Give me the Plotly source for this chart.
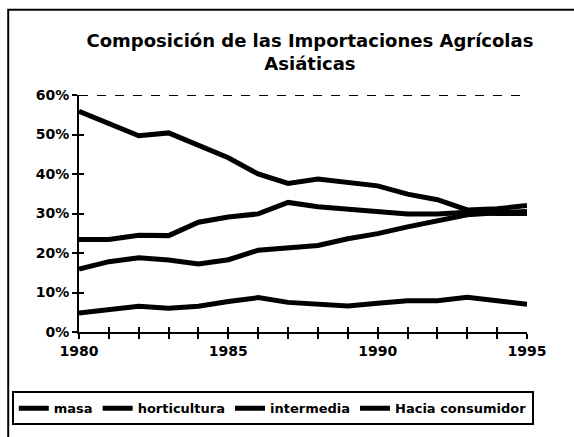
import plotly.graph_objects as go

years = list(range(1980, 1996))

masa = [0.559, 0.528, 0.497, 0.504, 0.473, 0.441, 0.400, 0.376, 0.387, 0.380,
        0.370, 0.349, 0.335, 0.309, 0.312, 0.320]
intermedia = [0.234, 0.234, 0.245, 0.244, 0.278, 0.291, 0.299, 0.328, 0.317, 0.310,
              0.303, 0.299, 0.299, 0.303, 0.300, 0.300]
consumidor = [0.159, 0.178, 0.188, 0.182, 0.172, 0.183, 0.207, 0.214, 0.219, 0.236,
              0.249, 0.266, 0.281, 0.297, 0.302, 0.305]
horticultura = [0.048, 0.058, 0.065, 0.060, 0.065, 0.077, 0.087, 0.075, 0.070, 0.066,
                0.073, 0.079, 0.079, 0.088, 0.079, 0.070]

series = [("masa", masa), ("horticultura", horticultura),
          ("intermedia", intermedia), ("Hacia consumidor", consumidor)]

font = "DejaVu Sans"
ax_common = dict(showline=True, linecolor="black", linewidth=2,
                 showgrid=False, zeroline=False, automargin=False)

fig = go.Figure()
for name, vals in series:
    fig.add_trace(go.Scatter(x=years, y=vals, name=name, mode="lines",
                             line=dict(color="black", width=5)))

# broken top line of the plot area, as in the scan
fig.add_shape(type="line", xref="paper", yref="y", x0=0, x1=1, y0=0.6, y1=0.6,
              line=dict(color="black", width=2, dash="dash"))
# outer chart frame
fig.add_shape(type="rect", xref="paper", yref="paper",
              x0=-0.158, x1=1.11, y0=1.36, y1=-0.45,
              line=dict(color="black", width=2))

fig.update_layout(
    width=574, height=437,
    margin=dict(l=78, r=47, t=95, b=103),
    paper_bgcolor="white", plot_bgcolor="white",
    font=dict(family=font, size=14, color="black", weight="bold"),
    title=dict(text="Composición de las Importaciones Agrícolas<br>Asiáticas",
               x=0.54, xanchor="center", y=0.893, yanchor="top",
               font=dict(family=font, size=18, color="black", weight="bold")),
    xaxis=dict(range=[1980, 1995], tickvals=[1980, 1985, 1990, 1995],
               ticks="outside", ticklen=5, tickwidth=2, tickcolor="black",
               minor=dict(dtick=1, ticks="outside", ticklen=5, tickwidth=2,
                          tickcolor="black"),
               **ax_common),
    # same axis again with inside ticks so the ticks cross the axis line
    xaxis2=dict(range=[1980, 1995], overlaying="x", side="bottom",
                tickvals=list(range(1980, 1996)), ticks="inside", ticklen=5,
                tickwidth=2, tickcolor="black", showticklabels=False,
                **ax_common),
    yaxis=dict(range=[0, 0.6], tickvals=[0, 0.1, 0.2, 0.3, 0.4, 0.5, 0.6],
               tickformat=".0%", ticks="outside", ticklen=5, tickwidth=2,
               tickcolor="black", **ax_common),
    yaxis2=dict(range=[0, 0.6], overlaying="y", side="left",
                tickvals=[0, 0.1, 0.2, 0.3, 0.4, 0.5, 0.6], ticks="inside",
                ticklen=5, tickwidth=2, tickcolor="black", showticklabels=False,
                **ax_common),
    legend=dict(orientation="h", x=-0.15, xanchor="left", y=-0.25, yanchor="top",
                bordercolor="black", borderwidth=2, bgcolor="white",
                font=dict(family=font, size=13, color="black", weight="bold"),
                itemwidth=30, tracegroupgap=0),
    showlegend=True,
)

# empty trace so the overlay axes are drawn
fig.add_trace(go.Scatter(x=[], y=[], xaxis="x2", yaxis="y2", showlegend=False,
                         hoverinfo="skip"))

fig.write_html("out.html", config={"displayModeBar": False},
               post_script="document.body.style.margin='0';")
